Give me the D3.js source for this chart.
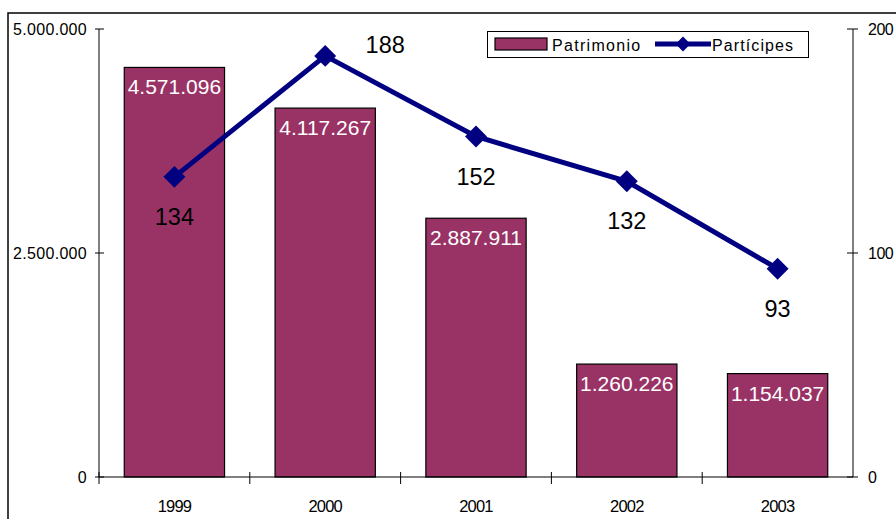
<!DOCTYPE html>
<html>
<head>
<meta charset="utf-8">
<script src="https://cdn.jsdelivr.net/npm/d3@7"></script>
<style>
body { margin: 0; background: #fff; }
text { font-family: Arial, "Liberation Sans", sans-serif; }
</style>
</head>
<body>
<script>
// data
var years = ["1999", "2000", "2001", "2002", "2003"];
var patrimonio = [4571096, 4117267, 2887911, 1260226, 1154037];
var participes = [134, 188, 152, 132, 93];
var leftTicks = [0, 2500000, 5000000];
var rightTicks = [0, 100, 200];

var W = 896, H = 519;
var svg = d3.select("body").append("svg").attr("width", W).attr("height", H);

var fmt = function(v) { return d3.format(",")(v).replace(/,/g, "."); };

var x = d3.scaleBand().domain(years).range([99, 853]).paddingInner(0.335).paddingOuter(0.1675);
var xCat = d3.scaleBand().domain(years).range([99, 853]);
var yL = d3.scaleLinear().domain([0, 5000000]).range([477, 29]);
var yR = d3.scaleLinear().domain([0, 200]).range([477, 29]);

// outer frame
svg.append("rect").attr("x", 8).attr("y", 13).attr("width", 1000).attr("height", 1000)
    .attr("fill", "none").attr("stroke", "#000").attr("stroke-width", 1.5);

// bars
svg.selectAll(".bar").data(patrimonio).enter().append("rect")
    .attr("x", function(d, i) { return x(years[i]); })
    .attr("y", function(d) { return yL(d); })
    .attr("width", x.bandwidth())
    .attr("height", function(d) { return yL(0) - yL(d); })
    .attr("fill", "#993366").attr("stroke", "#000").attr("stroke-width", 1.2);

svg.selectAll(".blab").data(patrimonio).enter().append("text")
    .attr("x", function(d, i) { return x(years[i]) + x.bandwidth() / 2; })
    .attr("y", function(d) { return yL(d) + 27; })
    .attr("text-anchor", "middle").attr("fill", "#fff").attr("font-size", 21)
    .text(fmt);

// axes
var axL = svg.append("g");
axL.append("line").attr("x1", 99).attr("x2", 99).attr("y1", 29).attr("y2", 477).attr("stroke", "#000");
leftTicks.forEach(function(t) {
    axL.append("line").attr("x1", 95).attr("x2", 104).attr("y1", yL(t)).attr("y2", yL(t)).attr("stroke", "#000");
    axL.append("text").attr("x", 87).attr("y", yL(t) + 6).attr("text-anchor", "end")
        .attr("font-size", 16).attr("letter-spacing", 0.3).text(fmt(t));
});
var axR = svg.append("g");
axR.append("line").attr("x1", 853).attr("x2", 853).attr("y1", 29).attr("y2", 477).attr("stroke", "#000");
rightTicks.forEach(function(t) {
    axR.append("line").attr("x1", 847).attr("x2", 858).attr("y1", yR(t)).attr("y2", yR(t)).attr("stroke", "#000");
    axR.append("text").attr("x", 868).attr("y", yR(t) + 6).attr("font-size", 16)
        .attr("letter-spacing", -0.5).text(t);
});
var axB = svg.append("g");
axB.append("line").attr("x1", 99).attr("x2", 853).attr("y1", 477).attr("y2", 477).attr("stroke", "#000");
years.forEach(function(yr, i) {
    var tx = xCat(yr);
    axB.append("line").attr("x1", tx).attr("x2", tx).attr("y1", 472).attr("y2", 484).attr("stroke", "#000");
    axB.append("text").attr("x", tx + xCat.bandwidth() / 2).attr("y", 512)
        .attr("text-anchor", "middle").attr("font-size", 16.5).attr("letter-spacing", -0.8).text(yr);
});

// line
var cx = function(i) { return xCat(years[i]) + xCat.bandwidth() / 2; };
var line = d3.line().x(function(d, i) { return cx(i); }).y(function(d) { return yR(d); });
svg.append("path").datum(participes).attr("d", line)
    .attr("fill", "none").attr("stroke", "#000080").attr("stroke-width", 5).attr("stroke-linejoin", "miter");
var diamond = d3.symbol().type(d3.symbolSquare).size(240);
svg.selectAll(".pt").data(participes).enter().append("path")
    .attr("d", diamond)
    .attr("transform", function(d, i) { return "translate(" + cx(i) + "," + yR(d) + ") rotate(45)"; })
    .attr("fill", "#000080");

svg.selectAll(".plab").data(participes).enter().append("text")
    .attr("x", function(d, i) { return i === 1 ? cx(i) + 60 : cx(i); })
    .attr("y", function(d, i) { return i === 1 ? yR(d) - 3 : yR(d) + 48; })
    .attr("text-anchor", "middle").attr("font-size", 23.5).attr("fill", "#000")
    .text(function(d) { return d; });

// legend
var lg = svg.append("g");
lg.append("rect").attr("x", 487.5).attr("y", 31.5).attr("width", 321).attr("height", 26)
    .attr("fill", "#fff").attr("stroke", "#000");
lg.append("rect").attr("x", 495).attr("y", 38).attr("width", 52).attr("height", 12)
    .attr("fill", "#993366").attr("stroke", "#000").attr("stroke-width", 1.2);
lg.append("text").attr("x", 552).attr("y", 51).attr("font-size", 16).attr("letter-spacing", 1.3).text("Patrimonio");
lg.append("line").attr("x1", 655).attr("x2", 711).attr("y1", 44).attr("y2", 44)
    .attr("stroke", "#000080").attr("stroke-width", 5);
lg.append("path").attr("d", d3.symbol().type(d3.symbolSquare).size(110))
    .attr("transform", "translate(683,44) rotate(45)").attr("fill", "#000080");
lg.append("text").attr("x", 712).attr("y", 51).attr("font-size", 16).attr("letter-spacing", 1.1).text("Partícipes");
</script>
</body>
</html>
